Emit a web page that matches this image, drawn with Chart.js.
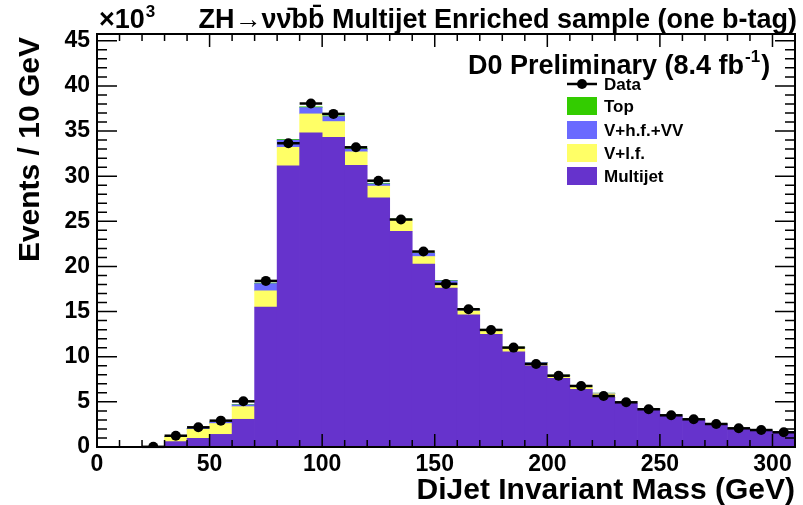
<!DOCTYPE html>
<html>
<head>
<meta charset="utf-8">
<script src="https://cdn.jsdelivr.net/npm/chart.js@4.4.0/dist/chart.umd.min.js"></script>
<style>
html, body { margin: 0; padding: 0; background: #fff; }
#wrap { width: 803px; height: 505px; position: relative; }
</style>
</head>
<body>
<div id="wrap"><canvas id="massChart"></canvas></div>
<script>
// bin centres (GeV), 10 GeV bins from 0 to 310
const binCenters = [5, 15, 25, 35, 45, 55, 65, 75, 85, 95, 105, 115, 125, 135, 145, 155,
    165, 175, 185, 195, 205, 215, 225, 235, 245, 255, 265, 275, 285, 295, 305];

// stacked backgrounds, in units of 10^3 events
const multijet = [0, 0, 0, 0.6, 0.96, 1.4, 3.07, 15.5, 31.15, 34.8, 34.3, 31.2, 27.6, 23.9, 20.25, 17.6,
    14.63, 12.49, 10.53, 8.98, 7.6, 6.4, 5.5, 4.9, 4.15, 3.45, 3.0, 2.5, 2.02, 1.82, 1.62];
const vLightFlavour = [0, 0, 0, 0.5, 1.0, 1.2, 1.4, 1.8, 2.05, 2.1, 1.75, 1.5, 1.3, 1.2, 0.85, 0.36,
    0.45, 0.37, 0.41, 0.3, 0.27, 0.29, 0.4, 0.1, 0.06, 0.05, 0.05, 0.04, 0.03, 0.03, 0.03];
const vHeavyFlavourVV = [0, 0, 0, 0.06, 0.1, 0.15, 0.2, 0.8, 0.8, 0.7, 0.55, 0.3, 0.25, 0.1, 0.35, 0.45,
    0.15, 0.12, 0.1, 0.08, 0.08, 0.06, 0.06, 0.05, 0.04, 0.04, 0.03, 0.03, 0.02, 0.02, 0.02];
const topQuark = [0, 0, 0, 0.01, 0.02, 0.03, 0.04, 0.06, 0.08, 0.09, 0.09, 0.08, 0.07, 0.06, 0.05, 0.05,
    0.04, 0.03, 0.03, 0.02, 0.02, 0.02, 0.01, 0.01, 0.01, 0.01, 0.01, 0.01, 0.01, 0.01, 0.01];

// observed data
const dataVals = [null, null, 0.02, 1.25, 2.18, 2.92, 5.06, 18.4, 33.65, 38.05, 36.9, 33.2, 29.5, 25.2, 21.65, 18.07,
    15.26, 12.97, 11.01, 9.2, 7.9, 6.76, 5.65, 4.95, 4.18, 3.51, 3.07, 2.55, 2.07, 1.88, 1.63];

const xTicks = [0, 50, 100, 150, 200, 250, 300];
const yTicks = [0, 5, 10, 15, 20, 25, 30, 35, 40, 45];

const binWidth = 10;
const FONT = '"Liberation Sans", Arial, sans-serif';

const legendItems = [
    { label: 'Top', color: '#33cc00' },
    { label: 'V+h.f.+VV', color: '#6a6aff' },
    { label: 'V+l.f.', color: '#ffff66' },
    { label: 'Multijet', color: '#6633cc' }
];

function toPoints(vals) {
    return binCenters.map((c, i) => ({ x: c, y: vals[i] }));
}

const rootFrame = {
    id: 'rootFrame',
    afterDatasetsDraw(chart) {
        // horizontal error bars of the data points
        const ctx = chart.ctx;
        const xs = chart.scales.x, ys = chart.scales.y;
        ctx.save();
        ctx.strokeStyle = '#000';
        ctx.lineWidth = 2.5;
        binCenters.forEach((c, i) => {
            if (dataVals[i] === null) return;
            const y = ys.getPixelForValue(dataVals[i]);
            ctx.beginPath();
            ctx.moveTo(xs.getPixelForValue(c - binWidth / 2), y);
            ctx.lineTo(xs.getPixelForValue(c + binWidth / 2), y);
            ctx.stroke();
        });
        ctx.restore();
    },
    afterDraw(chart) {
        const ctx = chart.ctx;
        const a = chart.chartArea;
        const xs = chart.scales.x, ys = chart.scales.y;
        ctx.save();
        ctx.strokeStyle = '#000';
        ctx.fillStyle = '#000';

        // ticks on all four sides, pointing inwards
        ctx.lineWidth = 1.5;
        ctx.beginPath();
        for (let v = 0; v <= 310; v += 10) {
            const px = xs.getPixelForValue(v);
            const len = v % 50 === 0 ? 13 : 7;
            ctx.moveTo(px, a.bottom); ctx.lineTo(px, a.bottom - len);
            ctx.moveTo(px, a.top); ctx.lineTo(px, a.top + len);
        }
        for (let v = 0; v <= 45; v += 1) {
            const py = ys.getPixelForValue(v);
            const len = v % 5 === 0 ? 20 : 10;
            ctx.moveTo(a.left, py); ctx.lineTo(a.left + len, py);
            ctx.moveTo(a.right, py); ctx.lineTo(a.right - len, py);
        }
        ctx.stroke();

        ctx.lineWidth = 2;
        ctx.strokeRect(a.left, a.top, a.right - a.left, a.bottom - a.top);

        // exponent and title
        ctx.textBaseline = 'alphabetic';
        ctx.textAlign = 'left';
        ctx.font = 'bold 27px ' + FONT;
        ctx.fillText('\u00d710', 99, 28);
        const w10 = ctx.measureText('\u00d710').width;
        ctx.font = 'bold 17px ' + FONT;
        ctx.fillText('3', 99 + w10 + 1, 17);

        ctx.textAlign = 'right';
        ctx.font = 'bold 27px ' + FONT;
        ctx.fillText('ZH\u2192\u03bd\u03bd\u0304bb\u0304 Multijet Enriched sample (one b-tag)', 797, 28);

        // experiment label
        ctx.textAlign = 'left';
        ctx.font = 'bold 27px ' + FONT;
        let x = 468;
        const part1 = 'D0 Preliminary (8.4 fb';
        ctx.fillText(part1, x, 74);
        x += ctx.measureText(part1).width;
        ctx.font = 'bold 17px ' + FONT;
        ctx.fillText('-1', x + 1, 62);
        x += ctx.measureText('-1').width + 2;
        ctx.font = 'bold 27px ' + FONT;
        ctx.fillText(')', x, 74);

        // legend
        ctx.font = 'bold 17px ' + FONT;
        ctx.textBaseline = 'middle';
        ctx.lineWidth = 2.5;
        ctx.beginPath();
        ctx.moveTo(567, 84); ctx.lineTo(597, 84);
        ctx.stroke();
        ctx.beginPath();
        ctx.arc(582, 84, 5, 0, Math.PI * 2);
        ctx.fill();
        ctx.fillText('Data', 604, 85);
        const rows = [106, 130, 153, 176];
        legendItems.forEach((item, i) => {
            ctx.fillStyle = item.color;
            ctx.fillRect(567, rows[i] - 9, 30, 18);
            ctx.fillStyle = '#000';
            ctx.fillText(item.label, 604, rows[i] + 1);
        });

        // axis titles
        ctx.textBaseline = 'alphabetic';
        ctx.font = 'bold 30px ' + FONT;
        ctx.textAlign = 'right';
        ctx.fillText('DiJet Invariant Mass (GeV)', 795, 499);

        ctx.translate(39, 37);
        ctx.rotate(-Math.PI / 2);
        ctx.fillText('Events / 10 GeV', 0, 0);
        ctx.restore();
    }
};

const ctx = document.getElementById('massChart').getContext('2d');
const massChart = new Chart(ctx, {
    type: 'bar',
    data: {
        datasets: [
            {
                type: 'line',
                label: 'Data',
                data: toPoints(dataVals),
                showLine: false,
                pointRadius: 5,
                pointHoverRadius: 5,
                pointBackgroundColor: '#000',
                pointBorderColor: '#000',
                pointBorderWidth: 0,
                order: 0
            },
            { label: 'Multijet', data: toPoints(multijet), backgroundColor: '#6633cc', order: 1 },
            { label: 'V+l.f.', data: toPoints(vLightFlavour), backgroundColor: '#ffff66', order: 1 },
            { label: 'V+h.f.+VV', data: toPoints(vHeavyFlavourVV), backgroundColor: '#6a6aff', order: 1 },
            { label: 'Top', data: toPoints(topQuark), backgroundColor: '#33cc00', order: 1 }
        ]
    },
    options: {
        responsive: true,
        maintainAspectRatio: false,
        animation: false,
        events: [],
        datasets: {
            bar: { barPercentage: 1, categoryPercentage: 1, borderWidth: 0 }
        },
        layout: { padding: { top: 34, right: 8, left: 0, bottom: 0 } },
        scales: {
            x: {
                type: 'linear',
                stacked: true,
                offset: false,
                min: 0,
                max: 310,
                afterFit: (scale) => { scale.height = 58; },
                afterBuildTicks: (scale) => { scale.ticks = xTicks.map(v => ({ value: v })); },
                grid: { display: false, drawTicks: false, offset: false },
                border: { display: false },
                ticks: {
                    autoSkip: false,
                    maxRotation: 0,
                    padding: 4,
                    color: '#000',
                    font: { family: FONT, size: 23, weight: 'bold' }
                }
            },
            y: {
                stacked: true,
                min: 0,
                max: 45.75,
                afterFit: (scale) => { scale.width = 97; },
                afterBuildTicks: (scale) => { scale.ticks = yTicks.map(v => ({ value: v })); },
                grid: { display: false, drawTicks: false },
                border: { display: false },
                ticks: {
                    padding: 7,
                    color: '#000',
                    font: { family: FONT, size: 23, weight: 'bold' }
                }
            }
        },
        plugins: {
            legend: { display: false },
            tooltip: { enabled: false }
        }
    },
    plugins: [rootFrame]
});
</script>
</body>
</html>
